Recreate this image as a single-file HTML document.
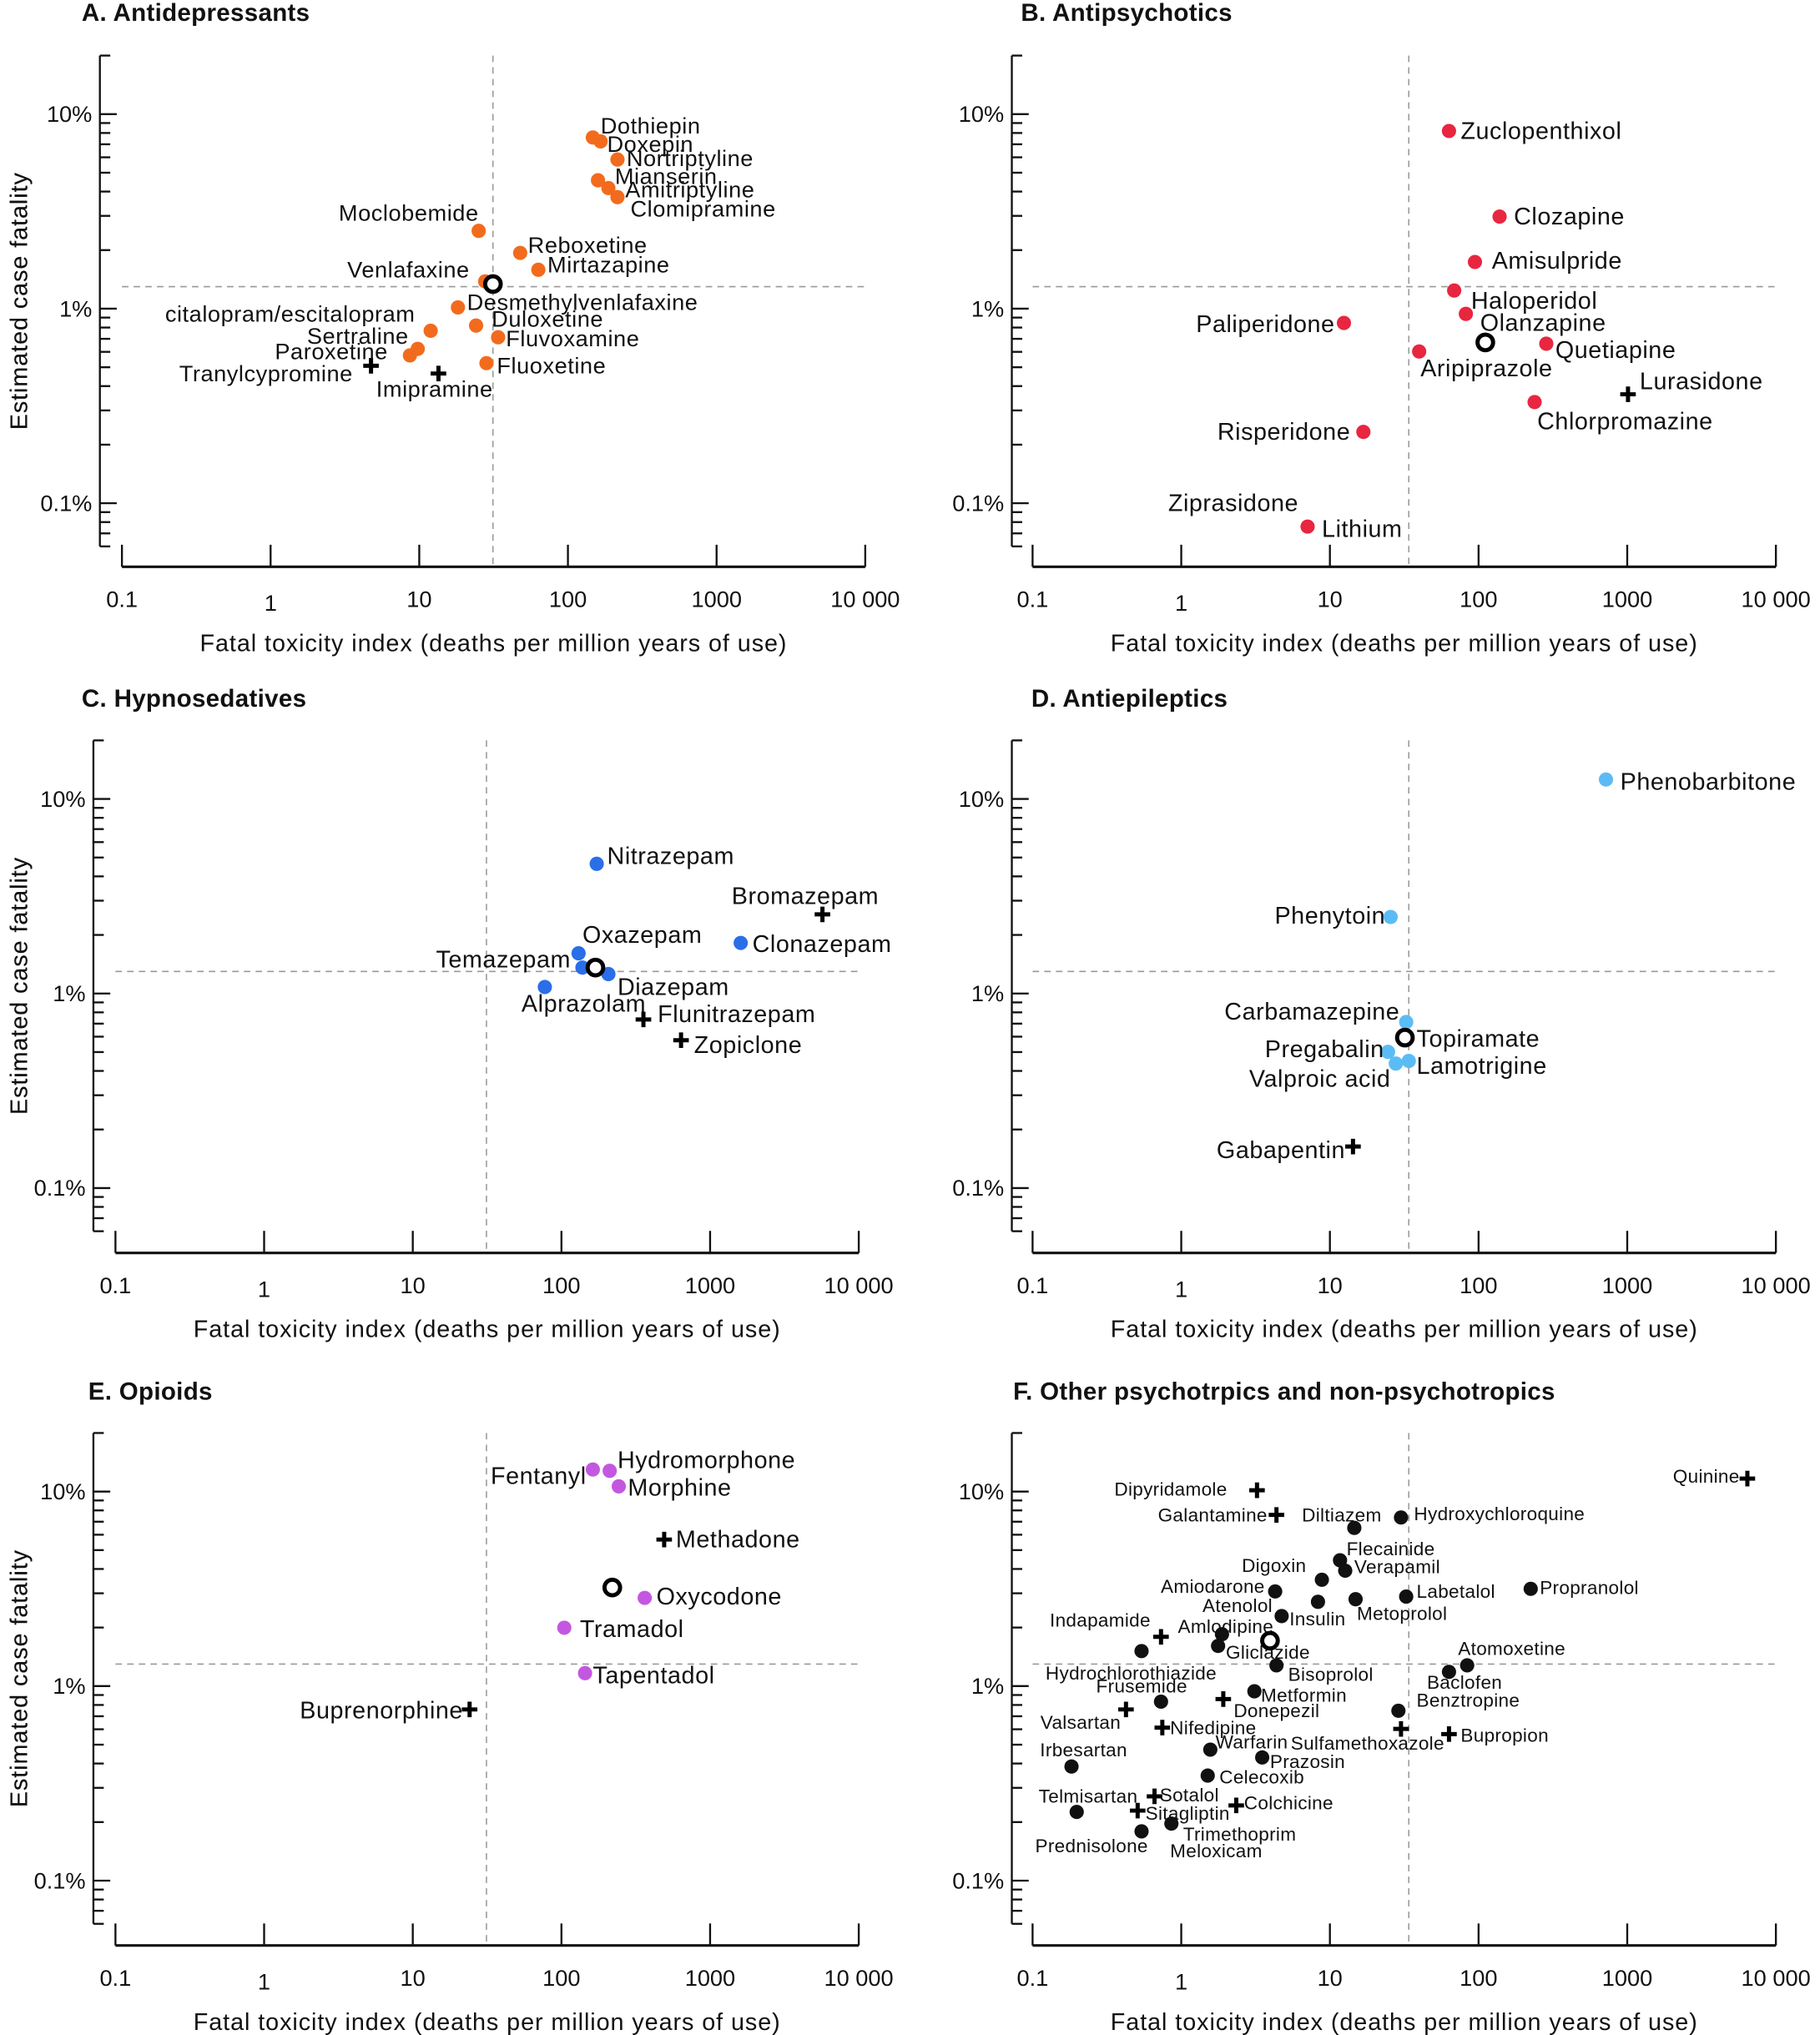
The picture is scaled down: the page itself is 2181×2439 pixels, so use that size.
<!DOCTYPE html>
<html><head><meta charset="utf-8"><style>
html,body{margin:0;padding:0;background:#fff}
svg{display:block}
text{font-family:"Liberation Sans",sans-serif;fill:#111}
</style></head><body>
<svg id="s" xmlns="http://www.w3.org/2000/svg" width="2181" height="2439" viewBox="0 0 1403 1569" preserveAspectRatio="none">
<rect width="1403" height="1569" fill="#fff"/>
<g id="g"></g>
</svg>
<script>
const NS="http://www.w3.org/2000/svg";const g=document.getElementById('g');
function el(t,a,txt){const e=document.createElementNS(NS,t);for(const k in a)e.setAttribute(k,a[k]);if(txt!=null)e.textContent=txt;g.appendChild(e);return e;}
function line(x1,y1,x2,y2,w,extra){return el('line',Object.assign({x1,y1,x2,y2,stroke:'#111','stroke-width':w||1.5},extra||{}));}
function txt(x,y,s,size,anchor,extra){return el('text',Object.assign({x,y,'font-size':size||16,'text-anchor':anchor||'start','letter-spacing':0.35},extra||{}),s);}
const P=[
 {t:'A. Antidepressants',tx:63,ty:16,ax:77,x0:94,Y:88,Yax:437,vx:380,hy:221},
 {t:'B. Antipsychotics',tx:787,ty:16,ax:780,x0:796,Y:88,Yax:437,vx:1086,hy:221},
 {t:'C. Hypnosedatives',tx:63,ty:545,ax:72,x0:89,Y:616,Yax:966,vx:375,hy:749},
 {t:'D. Antiepileptics',tx:795,ty:545,ax:780,x0:796,Y:616,Yax:966,vx:1086,hy:749},
 {t:'E. Opioids',tx:68,ty:1079,ax:72,x0:89,Y:1150,Yax:1500,vx:375,hy:1283},
 {t:'F. Other psychotrpics and non-psychotropics',tx:781,ty:1079,ax:780,x0:796,Y:1150,Yax:1500,vx:1086,hy:1283},
];
const dec=150,xd=114.6;
P.forEach(p=>{
 txt(p.tx,p.ty,p.t,19,'start',{'font-weight':'bold','letter-spacing':0.2});
 const yv=v=>p.Y+(1-Math.log10(v))*dec;
 line(p.ax,yv(20),p.ax,yv(0.06),1.5);
 const vals=[20,10,9,8,7,6,5,4,3,2,1,.9,.8,.7,.6,.5,.4,.3,.2,.1,.09,.08,.07,.06];
 vals.forEach(v=>{const maj=(v==10||v==1||v==0.1);const y=yv(v);line(p.ax,y,p.ax+(maj?13:8),y,1.5);});
 [[10,'10%'],[1,'1%'],[0.1,'0.1%']].forEach(([v,s])=>txt(p.ax-6,yv(v)+6,s,17.5,'end',{'letter-spacing':0}));
 const xe=p.x0+5*xd;
 line(p.x0,p.Yax,xe,p.Yax,2);
 ['0.1','1','10','100','1000','10 000'].forEach((s,i)=>{const x=p.x0+i*xd;line(x,p.Yax,x,p.Yax-17,1.5);txt(x,p.Yax+31+(s=='1'?3:0),s,17.5,'middle',{'letter-spacing':0});});
 txt((p.x0+xe)/2,p.Yax+65,'Fatal toxicity index (deaths per million years of use)',18.5,'middle',{'letter-spacing':0.6});
 const cy=(yv(20)+yv(0.06))/2;
 txt(0,0,'Estimated case fatality',18.5,'middle',{transform:`translate(21,${cy}) rotate(-90)`,'letter-spacing':0.6});
 line(p.vx,yv(20),p.vx,p.Yax,1,{stroke:'#999','stroke-dasharray':'5,4'});
 line(p.x0,p.hy,xe,p.hy,1,{stroke:'#999','stroke-dasharray':'5,4'});
});
function dot(x,y,c){el('circle',{cx:x,cy:y,r:5.5,fill:c});}
function plus(x,y){el('path',{d:`M${x-6} ${y}H${x+6}M${x} ${y-6}V${y+6}`,stroke:'#000','stroke-width':3.2,fill:'none'});}
function ring(x,y){el('circle',{cx:x,cy:y,r:6,fill:'#fff',stroke:'#000','stroke-width':3.2});}
const FS=17.5;
// A
const O='#f26b1d';
[[457,106],[463,109],[476,123],[461,139],[469,145],[476,152],[369,178],[401,195],[415,208],[374,217],[353,237],[332,255],[367,251],[384,260],[322,269],[316,274],[375,280]].forEach(d=>dot(d[0],d[1],O));
ring(380,219);plus(286,282);plus(338,288);
[[463,103,'Dothiepin'],[468,117,'Doxepin'],[483,128,'Nortriptyline'],[474,142,'Mianserin'],[482,152,'Amitriptyline'],[486,167,'Clomipramine'],[407,195,'Reboxetine'],[422,210,'Mirtazapine'],[360,239,'Desmethylvenlafaxine'],[379,252,'Duloxetine'],[390,267,'Fluvoxamine'],[290,306,'Imipramine'],[383,288,'Fluoxetine']].forEach(t=>txt(t[0],t[1],t[2],FS));
[[369,170,'Moclobemide'],[362,214,'Venlafaxine'],[320,248,'citalopram/escitalopram'],[315,265,'Sertraline'],[299,277,'Paroxetine'],[272,294,'Tranylcypromine']].forEach(t=>txt(t[0],t[1],t[2],FS,'end'));
// B
const R='#e8263f';
[[1117,101],[1156,167],[1137,202],[1121,224],[1130,242],[1192,265],[1036,249],[1094,271],[1183,310],[1051,333],[1008,406]].forEach(d=>dot(d[0],d[1],R));
ring(1145,264);plus(1255,304);
[[1126,107,'Zuclopenthixol'],[1167,173,'Clozapine'],[1150,207,'Amisulpride'],[1134,238,'Haloperidol'],[1141,255,'Olanzapine'],[1199,276,'Quetiapine'],[1095,290,'Aripiprazole'],[1264,300,'Lurasidone'],[1185,331,'Chlorpromazine'],[1019,414,'Lithium']].forEach(t=>txt(t[0],t[1],t[2],18.5));
[[1029,256,'Paliperidone'],[1041,339,'Risperidone'],[1001,394,'Ziprasidone']].forEach(t=>txt(t[0],t[1],t[2],18.5,'end'));
// C
const B='#2a6ee8';
[[460,666],[571,727],[446,735],[449,746],[469,751],[420,761]].forEach(d=>dot(d[0],d[1],B));
ring(459,746);plus(634,705);plus(496,786);plus(525,802);
[[468,666,'Nitrazepam'],[564,697,'Bromazepam'],[580,734,'Clonazepam'],[449,727,'Oxazepam'],[476,767,'Diazepam'],[402,780,'Alprazolam'],[507,788,'Flunitrazepam'],[535,812,'Zopiclone']].forEach(t=>txt(t[0],t[1],t[2],18.5));
txt(440,746,'Temazepam',18.5,'end');
// D
const L='#5bbcf5';
[[1238,601],[1072,707],[1084,788],[1070,811],[1076,820],[1086,818]].forEach(d=>dot(d[0],d[1],L));
ring(1083,800);plus(1043,884);
[[1249,609,'Phenobarbitone'],[1092,807,'Topiramate'],[1092,828,'Lamotrigine']].forEach(t=>txt(t[0],t[1],t[2],18.5));
[[1068,712,'Phenytoin'],[1079,786,'Carbamazepine'],[1067,815,'Pregabalin'],[1072,838,'Valproic acid'],[1037,893,'Gabapentin']].forEach(t=>txt(t[0],t[1],t[2],18.5,'end'));
// E
const U='#c457e0';
[[457,1133],[470,1134],[477,1146],[497,1232],[435,1255],[451,1290]].forEach(d=>dot(d[0],d[1],U));
ring(472,1224);plus(512,1187);plus(362,1318);
[[476,1132,'Hydromorphone'],[484,1153,'Morphine'],[521,1193,'Methadone'],[506,1237,'Oxycodone'],[447,1262,'Tramadol'],[457,1298,'Tapentadol']].forEach(t=>txt(t[0],t[1],t[2],18.5));
[[452,1144,'Fentanyl'],[357,1325,'Buprenorphine']].forEach(t=>txt(t[0],t[1],t[2],18.5,'end'));
// F
const K='#111';const FF=14.5;
[[1044,1178],[1080,1170],[1033,1203],[1037,1211],[1019,1218],[983,1227],[1084,1231],[1180,1225],[1016,1235],[1045,1233],[988,1246],[942,1260],[939,1269],[1131,1284],[984,1284],[1117,1289],[880,1273],[967,1304],[1078,1319],[895,1312],[933,1349],[973,1355],[826,1362],[931,1369],[830,1397],[880,1412],[903,1406]].forEach(d=>dot(d[0],d[1],K));
ring(979,1265);
[[1347,1140],[969,1149],[984,1168],[895,1262],[943,1310],[868,1318],[896,1332],[1080,1333],[1117,1337],[890,1385],[877,1396],[953,1392]].forEach(d=>plus(d[0],d[1]));
[[1090,1172,'Hydroxychloroquine'],[1038,1199,'Flecainide'],[1044,1213,'Verapamil'],[1092,1232,'Labetalol'],[1187,1229,'Propranolol'],[1046,1249,'Metoprolol'],[994,1253,'Insulin'],[908,1259,'Amlodipine'],[945,1279,'Gliclazide'],[1124,1276,'Atomoxetine'],[993,1296,'Bisoprolol'],[1100,1302,'Baclofen'],[806,1295,'Hydrochlorothiazide'],[845,1305,'Frusemide'],[1092,1316,'Benztropine'],[972,1312,'Metformin'],[951,1324,'Donepezil'],[902,1337,'Nifedipine'],[1126,1343,'Bupropion'],[937,1348,'Warfarin'],[995,1349,'Sulfamethoxazole'],[979,1363,'Prazosin'],[940,1375,'Celecoxib'],[894,1389,'Sotalol'],[883,1403,'Sitagliptin'],[959,1395,'Colchicine'],[912,1419,'Trimethoprim'],[798,1428,'Prednisolone'],[902,1432,'Meloxicam']].forEach(t=>txt(t[0],t[1],t[2],FF,'start',{'letter-spacing':0.2}));
[[1341,1143,'Quinine'],[946,1153,'Dipyridamole'],[977,1173,'Galantamine'],[1065,1173,'Diltiazem'],[1007,1212,'Digoxin'],[975,1228,'Amiodarone'],[981,1243,'Atenolol'],[887,1254,'Indapamide'],[864,1333,'Valsartan'],[869,1354,'Irbesartan'],[877,1390,'Telmisartan']].forEach(t=>txt(t[0],t[1],t[2],FF,'end',{'letter-spacing':0.2}));
</script>
</body></html>
